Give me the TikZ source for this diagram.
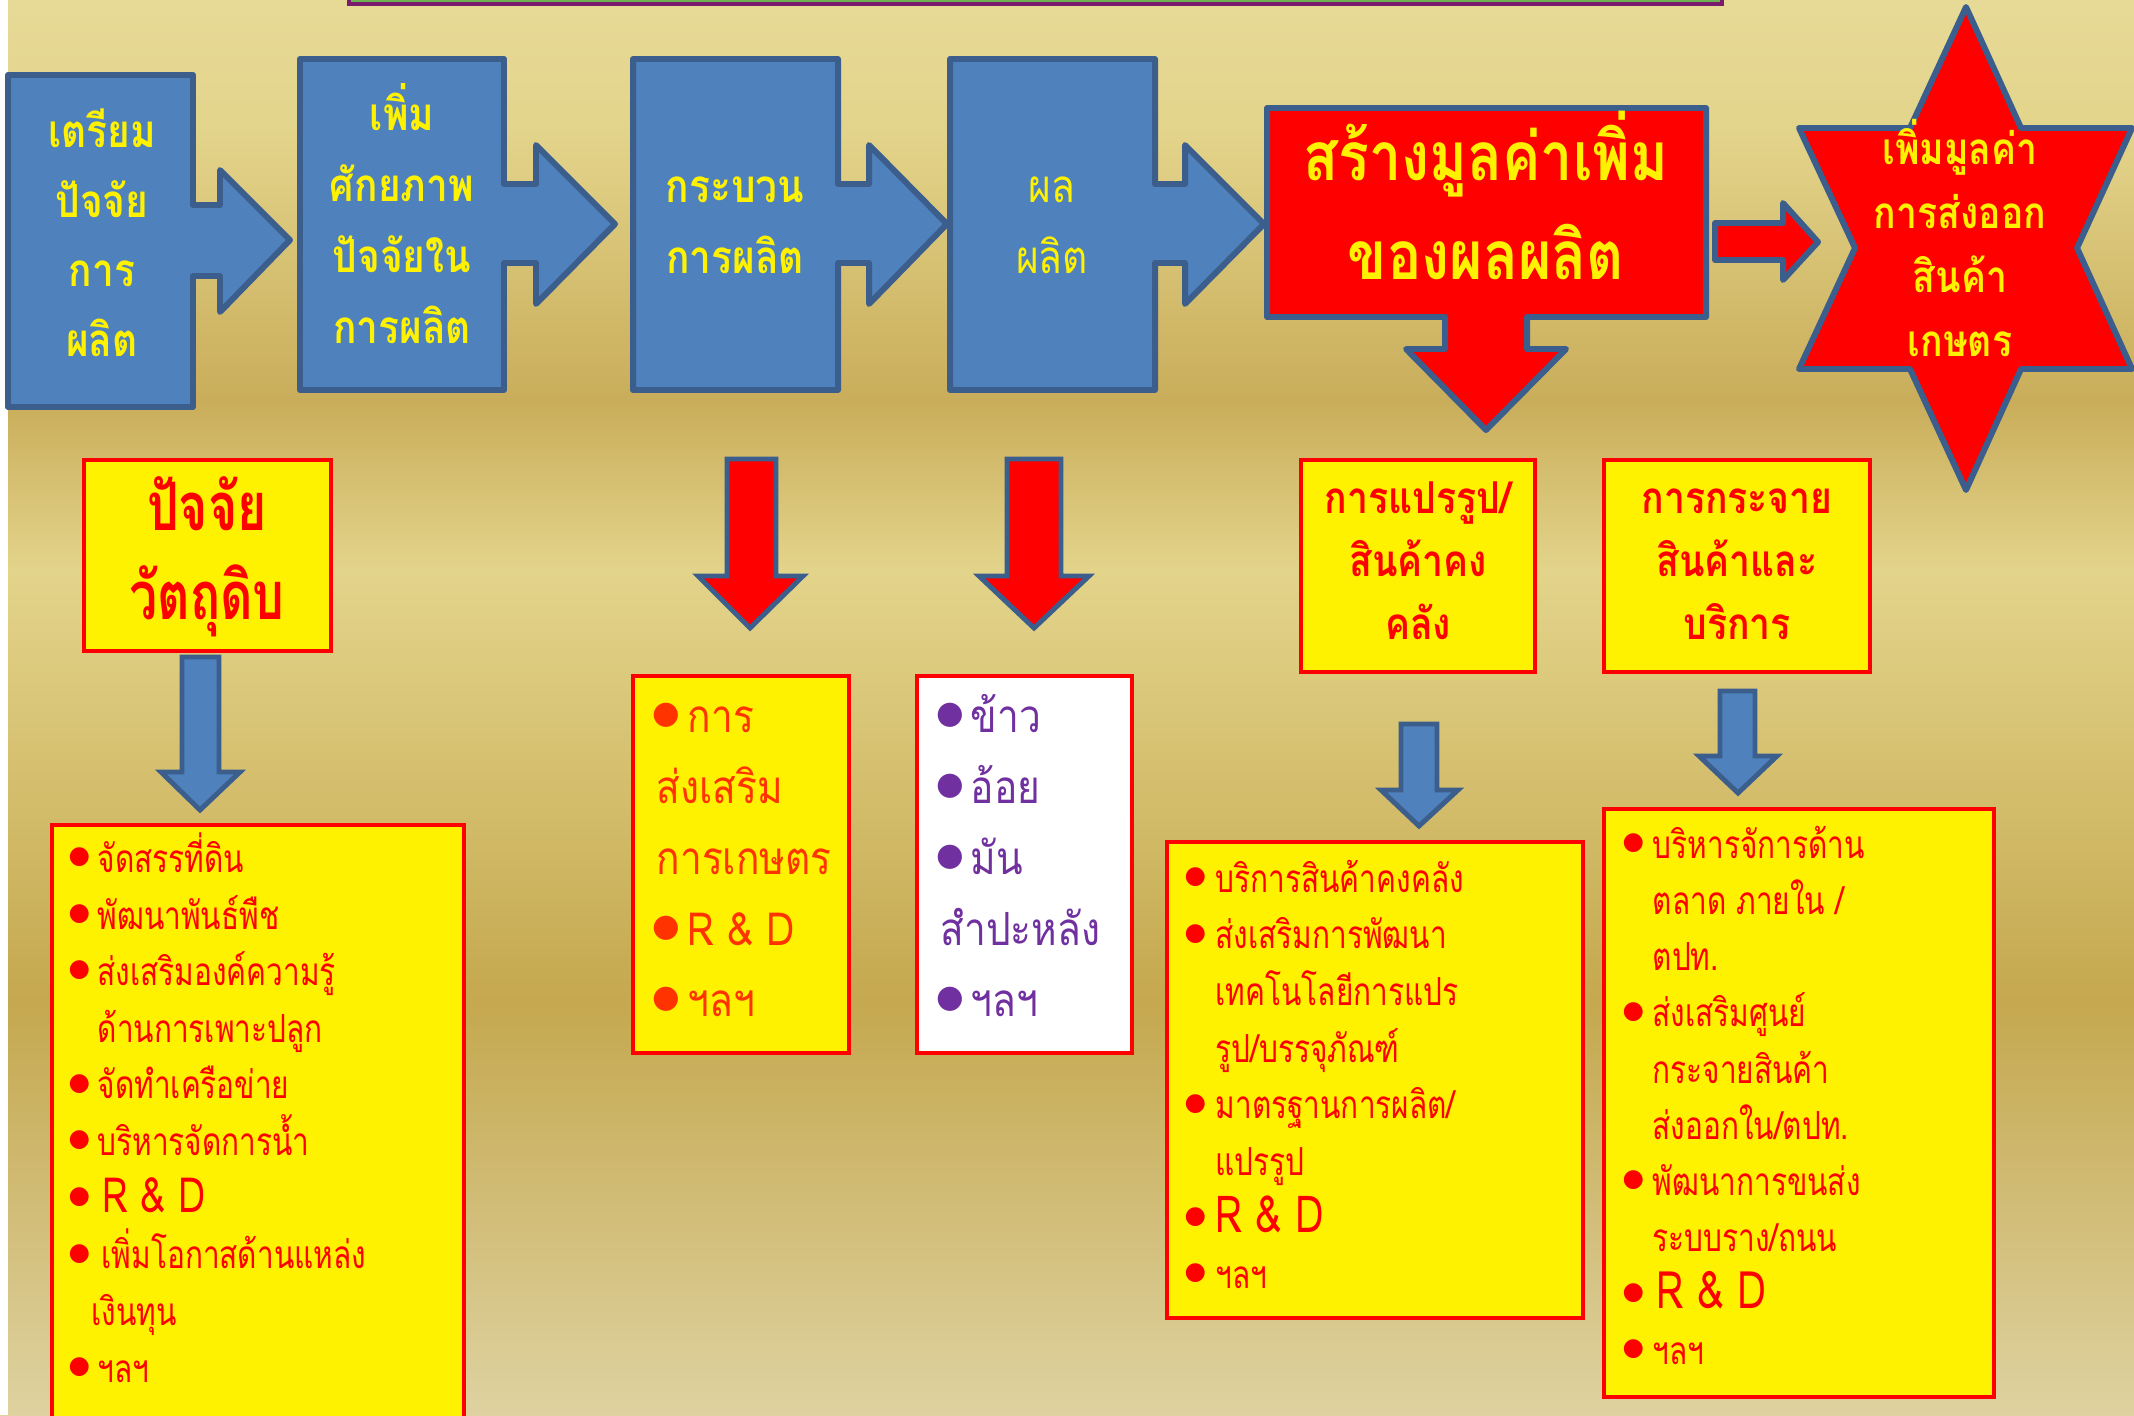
\documentclass[tikz,border=0pt]{standalone}
\usepackage{fontspec}
\newfontfamily\thai[Script=Thai,FakeStretch=0.85]{Loma}
\newfontfamily\thain[Script=Thai,FakeStretch=0.77]{Loma}
\newfontfamily\thaic[Script=Thai,FakeStretch=0.75]{Loma}
\newfontfamily\dingfont{DejaVu Sans}

\definecolor{bgtop}{HTML}{E7DA97}
\definecolor{bglight}{HTML}{E3D48B}
\definecolor{bgdark}{HTML}{C9AD5A}
\definecolor{bgdeep}{HTML}{C5A84F}
\definecolor{bgfoot}{HTML}{DED2A0}
\definecolor{boxblue}{HTML}{4F81BD}
\definecolor{edgeblue}{HTML}{3B5E8C}
\definecolor{topgreen}{HTML}{6DB050}
\definecolor{toppurple}{HTML}{7A1B6E}
\definecolor{extred}{HTML}{FF3300}
\definecolor{croppurple}{HTML}{7030A0}

% bullet of a list line, and the indent of a wrapped line
\newlength\bulw
\newcommand\bul[1][7]{\makebox[\bulw][l]{\hspace*{-0.04cm}\fontsize{#1}{#1}\dingfont\raisebox{2.5pt}{●}}\ignorespaces}
\newcommand\ind{\hspace*{\bulw}}

\tikzset{
  bluebox/.style={fill=boxblue, draw=edgeblue, line width=1.7pt, line join=round},
  redbox/.style={fill=red, draw=edgeblue, line width=1.7pt, line join=round},
  bluedown/.style={fill=boxblue, draw=edgeblue, line width=1.4pt},
  reddown/.style={fill=red, draw=edgeblue, line width=1.4pt},
  yellowbox/.style={fill=yellow, draw=red, line width=0.9pt},
  boxtext/.style={text=yellow, align=center, inner sep=0pt},
  titletext/.style={text=red, align=center, inner sep=0pt},
  listtext/.style={anchor=north west, align=left, inner sep=0pt},
}

\begin{document}
\begin{tikzpicture}[x=0.01cm, y=-0.01cm]
    \useasboundingbox (0,0) rectangle (2134,1415);
    \clip (0,0) rectangle (2134,1415);
    % gold background
    \fill[top color=bgtop, bottom color=bglight] (0,0) rectangle (2134,131);
    \fill[top color=bglight, bottom color=bgdark] (0,130) rectangle (2134,401);
    \fill[top color=bgdark, bottom color=bglight] (0,400) rectangle (2134,571);
    \fill[top color=bglight, bottom color=bgdeep] (0,570) rectangle (2134,1001);
    \fill[top color=bgdeep, bottom color=bgfoot] (0,1000) rectangle (2134,1415);
    \fill[white] (0,0) rectangle (8,1415);
    \filldraw[fill=topgreen, draw=toppurple, line width=1.2pt] (349,-30) rectangle (1722,4);

    % top row
    \filldraw[bluebox] (8,75) -- (193,75) -- (193,205) -- (220,205) -- (220,170) -- (290,240) -- (220,312) -- (220,276) -- (193,276) -- (193,407) -- (8,407) -- cycle;
    \filldraw[bluebox] (300,59) -- (504,59) -- (504,184) -- (536,184) -- (536,145) -- (615,224) -- (536,304) -- (536,263) -- (504,263) -- (504,390) -- (300,390) -- cycle;
    \filldraw[bluebox] (633,59) -- (838,59) -- (838,184) -- (869,184) -- (869,145) -- (947,224) -- (869,304) -- (869,263) -- (838,263) -- (838,390) -- (633,390) -- cycle;
    \filldraw[bluebox] (950,59) -- (1155,59) -- (1155,184) -- (1185,184) -- (1185,145) -- (1264,224) -- (1185,304) -- (1185,263) -- (1155,263) -- (1155,390) -- (950,390) -- cycle;
    \filldraw[redbox] (1267,108) -- (1706,108) -- (1706,317) -- (1527,317) -- (1527,349) -- (1566,349) -- (1486,430) -- (1406,349) -- (1445,349) -- (1445,317) -- (1267,317) -- cycle;
    \filldraw[redbox] (1715,223) -- (1783,223) -- (1783,203) -- (1818,242) -- (1783,280) -- (1783,260) -- (1715,260) -- cycle;
    \filldraw[redbox] (1966,7) -- (2021,128) -- (2132,128) -- (2077,248) -- (2132,369) -- (2021,369) -- (1966,490) -- (1910,369) -- (1799,369) -- (1855,248) -- (1799,128) -- (1910,128) -- cycle;

    \node[boxtext, font=\thai\bfseries\fontsize{13}{19.9}\selectfont] (prep) at (102,238) {\strut เตรียม\\ปัจจัย\\การ\\ผลิต\strut};
    \node[boxtext, font=\thai\bfseries\fontsize{13}{20.2}\selectfont] (boost) at (402,223) {\strut เพิ่ม\\ศักยภาพ\\ปัจจัยใน\\การผลิต\strut};
    \node[boxtext, font=\thai\bfseries\fontsize{13}{20.2}\selectfont] (proc) at (735,224) {\strut กระบวน\\การผลิต\strut};
    \node[boxtext, font=\thai\fontsize{13}{20.2}\selectfont] (yield) at (1052,224) {\strut ผล\\ผลิต\strut};
    \node[boxtext, font=\thai\bfseries\fontsize{19.2}{27.9}\selectfont] (addval) at (1486,210) {\strut สร้างมูลค่าเพิ่ม\\ของผลผลิต\strut};
    \node[boxtext, font=\thai\bfseries\fontsize{12.5}{18.2}\selectfont] (export) at (1960,247) {\strut เพิ่มมูลค่า\\การส่งออก\\สินค้า\\เกษตร\strut};

    % down arrows
    \filldraw[bluedown] (182,657) -- (219,657) -- (219,772) -- (240,772) -- (200,810) -- (161,772) -- (182,772) -- cycle;
    \filldraw[reddown] (727,459) -- (776,459) -- (776,576) -- (803,576) -- (750,628) -- (698,576) -- (727,576) -- cycle;
    \filldraw[reddown] (1007,459) -- (1061,459) -- (1061,576) -- (1089,576) -- (1034,628) -- (979,576) -- (1007,576) -- cycle;
    \filldraw[bluedown] (1401,724) -- (1437,724) -- (1437,790) -- (1458,790) -- (1419,826) -- (1381,790) -- (1401,790) -- cycle;
    \filldraw[bluedown] (1720,691) -- (1755,691) -- (1755,756) -- (1777,756) -- (1738,793) -- (1699,756) -- (1720,756) -- cycle;

    % boxes below
    \filldraw[yellowbox] (84,460) rectangle (331,651);
    \filldraw[yellowbox] (1301,460) rectangle (1535,672);
    \filldraw[yellowbox] (1604,460) rectangle (1870,672);
    \filldraw[yellowbox] (52,825) rectangle (464,1430);
    \filldraw[yellowbox] (633,676) rectangle (849,1053);
    \filldraw[fill=white, draw=red, line width=0.9pt] (917,676) rectangle (1132,1053);
    \filldraw[yellowbox] (1167,842) rectangle (1583,1318);
    \filldraw[yellowbox] (1604,809) rectangle (1994,1397);

    \node[titletext, font=\thaic\bfseries\fontsize{19}{25.3}\selectfont] (raw) at (207,557) {\strut ปัจจัย\\วัตถุดิบ\strut};
    \node[titletext, font=\thai\bfseries\fontsize{12.5}{17.9}\selectfont] (store) at (1418,564) {\strut การแปรรูป/\\สินค้าคง\\คลัง\strut};
    \node[titletext, font=\thai\bfseries\fontsize{12.5}{17.9}\selectfont] (distr) at (1737,564) {\strut การกระจาย\\สินค้าและ\\บริการ\strut};

    \setlength\bulw{0.25cm}
    \node[listtext, text=red, font=\thain\fontsize{11}{16.1}\selectfont] (rawlist) at (72,832) {\strut\bul จัดสรรที่ดิน\\
      \bul พัฒนาพันธ์พืช\\
      \bul ส่งเสริมองค์ความรู้\\
      \ind ด้านการเพาะปลูก\\
      \bul จัดทำเครือข่าย\\
      \bul บริหารจัดการน้ำ\\
      \bul\hspace{0.05cm}{\fontsize{13.8}{16.1}\selectfont R \& D}\\
      \bul\hspace{0.04cm}เพิ่มโอกาสด้านแหล่ง\\
      \hspace*{0.19cm}เงินทุน\\
      \bul ฯลฯ};
    \setlength\bulw{0.31cm}
    \node[listtext, text=extred, font=\thai\fontsize{13}{20.2}\selectfont] (ext) at (656,682) {\strut\bul[9] การ\\
      ส่งเสริม\\
      การเกษตร\\
      \bul[9] {\fontsize{13}{20.2}\selectfont R \& D}\\
      \bul[9] ฯลฯ};
    \setlength\bulw{0.30cm}
    \node[listtext, text=croppurple, font=\thai\fontsize{13}{20.2}\selectfont] (crops) at (940,682) {\strut\bul[9] ข้าว\\
      \bul[9] อ้อย\\
      \bul[9] มัน\\
      สำปะหลัง\\
      \bul[9] ฯลฯ};
    \setlength\bulw{0.27cm}
    \node[listtext, text=red, font=\thain\fontsize{11}{16.1}\selectfont] (storelist) at (1188,852) {\strut\bul บริการสินค้าคงคลัง\\
      \bul ส่งเสริมการพัฒนา\\
      \ind เทคโนโลยีการแปร\\
      \ind รูป/บรรจุภัณฑ์\\
      \bul มาตรฐานการผลิต/\\
      \ind แปรรูป\\
      \bul {\fontsize{14.5}{16.1}\selectfont R \& D}\\
      \bul ฯลฯ};
    \setlength\bulw{0.26cm}
    \node[listtext, text=red, font=\thain\fontsize{11}{16}\selectfont] (distrlist) at (1626,818) {\strut\bul บริหารจัการด้าน\\
      \ind ตลาด ภายใน /\\
      \ind ตปท.\\
      \bul ส่งเสริมศูนย์\\
      \ind กระจายสินค้า\\
      \ind ส่งออกใน/ตปท.\\
      \bul พัฒนาการขนส่ง\\
      \ind ระบบราง/ถนน\\
      \bul\hspace{0.04cm}{\fontsize{14.7}{16}\selectfont R \& D}\\
      \bul ฯลฯ};
\end{tikzpicture}
\end{document}
